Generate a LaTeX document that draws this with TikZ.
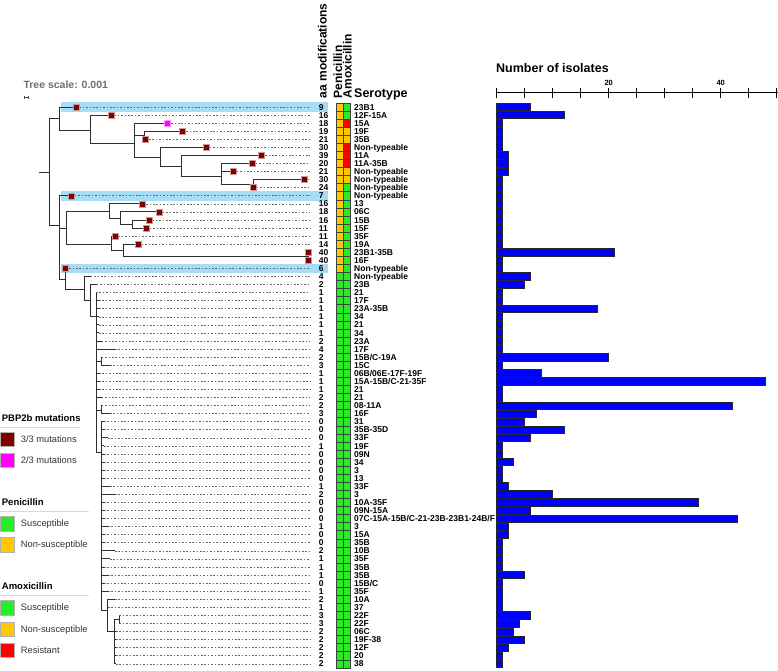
\documentclass[tikz,border=0pt]{standalone}
\usepackage{fontspec}
\setmainfont{Liberation Sans}
\definecolor{maroonc}{RGB}{128,0,0}
\definecolor{magc}{RGB}{255,0,255}
\definecolor{colG}{RGB}{40,235,40}
\definecolor{colO}{RGB}{255,200,0}
\definecolor{colR}{RGB}{255,0,0}
\definecolor{hlc}{RGB}{166,220,245}
\definecolor{barc}{RGB}{0,0,255}
\definecolor{scalegray}{RGB}{110,110,110}
\definecolor{legtxt}{RGB}{50,50,50}
\newcommand\ry[1]{107+8.07*(#1-1)}
\newcommand\tvl[3]{\draw[tree] (#1,{#2}) -- (#1,{#3});}
\newcommand\thl[3]{\draw[tree] (#1,{#3}) -- (#2,{#3});}
\newcommand\tleaf[3]{\draw[tree] (#1,{\ry{#3}}) -- (#2,{\ry{#3}});\draw[dots] (#2,{\ry{#3}}) -- (310,{\ry{#3}});}
\newcommand\tmark[3][m3]{\node[#1] (mk#3) at (#2,{\ry{#3}}) {};}
\begin{document}
\begin{tikzpicture}[x=1pt,y=-1pt,
  tree/.style={line width=0.95pt,draw=black!82,line cap=rect},
  dots/.style={draw=black!60,line width=0.65pt,dash pattern=on 1.6pt off 1.8pt},
  m3/.style={rectangle,fill=maroonc,draw=maroonc!40!white,line width=0.5pt,minimum size=6pt,inner sep=0pt},
  m2/.style={m3,fill=magc,draw=magc!40!white},
  numtxt/.style={anchor=base west,inner sep=0pt,font=\bfseries\fontsize{8.5}{9}\selectfont},
  serotxt/.style={anchor=base west,inner sep=0pt,font=\bfseries\fontsize{8.5}{9}\selectfont},
  headtxt/.style={anchor=base west,inner sep=0pt,rotate=90,font=\bfseries\fontsize{12}{13}\selectfont},
  cellbox/.style={draw=black!75,line width=0.5pt},
  barbox/.style={fill=barc,draw=black!85,line width=0.7pt},
  legtitle/.style={anchor=base west,inner sep=0pt,font=\bfseries\fontsize{9.5}{11}\selectfont},
  legitem/.style={anchor=base west,inner sep=0pt,text=legtxt,font=\fontsize{9.3}{11}\selectfont},
  legsq/.style={draw=black!30,line width=0.4pt},
  legline/.style={draw=black!15,line width=0.8pt}]
\useasboundingbox (0,0) rectangle (778,670);
% highlight bands
\foreach \r in {1,12,21} {\fill[hlc] (61,{\ry{\r}-4.85}) rectangle (328,{\ry{\r}+4.85});}
% tree scale
\node[anchor=base west,inner sep=0pt,text=scalegray,font=\bfseries\fontsize{10.5}{12}\selectfont] (tscale) at (23.3,88.3) {Tree scale: 0.001};
\draw[black!70,line width=0.6pt] (24,97.7) -- (28.5,97.7) (24,96) -- (24,99.4) (28.5,96) -- (28.5,99.4);
% ---- upper clade
\thl{39.3}{49.3}{172}
\tvl{49.3}{118.5}{225.7}
\thl{49.3}{59.3}{118.5}
\tvl{59.3}{\ry{1}}{130}
\tleaf{59.3}{76}{1}
\thl{59.3}{90.7}{130}
\tvl{90.7}{\ry{2}}{143.3}
\tleaf{90.7}{111}{2}
\thl{90.7}{134.3}{143.3}
\tvl{134.3}{\ry{3}}{157.3}
\tleaf{134.3}{167.7}{3}
\thl{134.3}{144.3}{135.2}
\tvl{144.3}{\ry{4}}{\ry{5}}
\tleaf{144.3}{182.7}{4}
\tleaf{144.3}{145.5}{5}
\thl{134.3}{160}{157.3}
\tvl{160}{\ry{6}}{166}
\tleaf{160}{206.3}{6}
\thl{160}{181.7}{166}
\tvl{181.7}{\ry{7}}{176.3}
\tleaf{181.7}{261.7}{7}
\thl{181.7}{221}{176.3}
\tvl{221}{\ry{8}}{184}
\tleaf{221}{252.3}{8}
\tleaf{221}{233.3}{9}
\thl{221}{253.3}{184}
\tvl{253.3}{\ry{10}}{\ry{11}}
\tleaf{253.3}{304.3}{10}
\tleaf{253.3}{253.3}{11}
% ---- middle clade
\thl{49.3}{59.3}{225.7}
\tvl{59.3}{\ry{12}}{279.3}
\tleaf{59.3}{71.3}{12}
\thl{59.3}{66.7}{228}
\tvl{66.7}{211.7}{244.3}
\thl{66.7}{109.3}{211.7}
\tvl{109.3}{\ry{13}}{218}
\tleaf{109.3}{142.7}{13}
\thl{109.3}{120}{218}
\tvl{120}{\ry{14}}{224}
\tleaf{120}{159.3}{14}
\thl{120}{132.7}{224}
\tvl{132.7}{\ry{15}}{\ry{16}}
\tleaf{132.7}{149}{15}
\tleaf{132.7}{146.3}{16}
\thl{66.7}{111}{244.3}
\tvl{111}{\ry{17}}{250.7}
\tleaf{111}{115}{17}
\thl{111}{123.3}{250.7}
\tvl{123.3}{\ry{18}}{256.3}
\tleaf{123.3}{138.3}{18}
\thl{123.3}{308.3}{256.3}
\tvl{308.3}{\ry{19}}{\ry{20}}
% ---- lower clade
\thl{59.3}{65.7}{279.3}
\tvl{65.7}{\ry{21}}{289.3}
\tleaf{65.7}{65.7}{21}
\thl{65.7}{84}{289.3}
\tvl{84}{\ry{22}}{300.7}
\tleaf{84}{90.7}{22}
\thl{84}{90}{300.7}
\tvl{90}{\ry{23}}{316}
\tleaf{90}{96.7}{23}
\thl{90}{96}{316}
\tvl{96}{\ry{24}}{452.7}
\tleaf{96}{96}{24}
\foreach \r in {25,...,29} {\tleaf{96}{99}{\r}}
\tleaf{96}{101.7}{30}
\tleaf{96}{115}{31}
\thl{96}{101.7}{361.3}
\tvl{101.7}{\ry{32}}{\ry{33}}
\tleaf{101.7}{101.7}{32}
\tleaf{101.7}{110}{33}
\foreach \r in {34,35,36} {\tleaf{96}{99}{\r}}
\tleaf{96}{101.7}{37}
\thl{96}{101.7}{410}
\tvl{101.7}{\ry{38}}{\ry{39}}
\tleaf{101.7}{101.7}{38}
\tleaf{101.7}{110}{39}
\thl{96}{101.7}{452.7}
\tvl{101.7}{\ry{40}}{610}
\foreach \r/\e in {40/104,41/104,42/108,43/104,44/104,45/104,46/104,47/104,48/110,49/115,50/104,51/104,52/104,53/108,54/104,55/104,56/115,57/110,58/104,59/108,60/104,61/108} {\tleaf{101.7}{\e}{\r}}
\thl{101.7}{107.7}{610}
\tvl{107.7}{\ry{62}}{631}
\tleaf{107.7}{115}{62}
\tleaf{107.7}{108}{63}
\thl{107.7}{114}{631}
\tvl{114}{619.7}{\ry{70}}
\thl{114}{119.3}{619.7}
\tvl{119.3}{\ry{64}}{\ry{65}}
\tleaf{119.3}{119.3}{64}
\tleaf{119.3}{119.3}{65}
\foreach \r in {66,...,70} {\tleaf{114}{116}{\r}}
% ---- markers
\tmark{76}{1}
\tmark{111}{2}
\tmark[m2]{167.7}{3}
\tmark{182.7}{4}
\tmark{145.5}{5}
\tmark{206.3}{6}
\tmark{261.7}{7}
\tmark{252.3}{8}
\tmark{233.3}{9}
\tmark{304.3}{10}
\tmark{253.3}{11}
\tmark{71.3}{12}
\tmark{142.7}{13}
\tmark{159.3}{14}
\tmark{149}{15}
\tmark{146.3}{16}
\tmark{115}{17}
\tmark{138.3}{18}
\tmark{308.3}{19}
\tmark{308.3}{20}
\tmark{65.7}{21}
% ---- headers
\node[headtxt] (hdaa) at (326.7,98.3) {aa modifications};
\node[headtxt] (hdpen) at (342,98.3) {Penicillin};
\node[headtxt] (hdamx) at (351.7,98.3) {Amoxicillin};
\node[anchor=base west,inner sep=0pt,font=\bfseries\fontsize{12.5}{14}\selectfont] (hdsero) at (354,97.5) {Serotype};
% ---- aa numbers
\foreach \n [count=\i] in {9,16,18,19,21,30,39,20,21,30,24,7,16,18,16,11,11,14,40,40,6,4,2,1,1,1,1,1,1,2,4,2,3,1,1,1,2,2,3,0,0,0,1,0,0,0,0,1,2,0,0,0,1,0,0,2,1,1,1,0,1,2,1,3,3,2,2,2,2,2}
  {\node[numtxt] (num\i) at (318.6,{\ry{\i}+3.05}) {\n};}
% ---- penicillin / amoxicillin cells
\foreach \i in {1,...,70} {
  \pgfmathsetmacro\yy{\ry{\i}}
  \ifnum\i<22 \def\pc{colO}\else\def\pc{colG}\fi
  \fill[\pc] (336.6,\yy-4.035) rectangle (343.3,\yy+4.035);
}
\foreach \c [count=\i] in {G,G,R,O,O,R,R,R,O,O,G,G,G,G,G,G,G,G,G,G,G,G,G,G,G,G,G,G,G,G,G,G,G,G,G,G,G,G,G,G,G,G,G,G,G,G,G,G,G,G,G,G,G,G,G,G,G,G,G,G,G,G,G,G,G,G,G,G,G,G}
  {\pgfmathsetmacro\yy{\ry{\i}}
   \fill[col\c] (343.3,\yy-4.035) rectangle (350,\yy+4.035);}
\foreach \i in {1,...,70} {
  \pgfmathsetmacro\yy{\ry{\i}}
  \draw[cellbox] (336.6,\yy-4.035) rectangle (343.3,\yy+4.035);
  \draw[cellbox] (343.3,\yy-4.035) rectangle (350,\yy+4.035);
}
% ---- serotypes
\foreach \s [count=\i] in {23B1,12F-15A,15A,19F,35B,Non-typeable,11A,11A-35B,Non-typeable,Non-typeable,Non-typeable,Non-typeable,13,06C,15B,15F,35F,19A,23B1-35B,16F,Non-typeable,Non-typeable,23B,21,17F,23A-35B,34,21,34,23A,17F,15B/C-19A,15C,06B/06E-17F-19F,15A-15B/C-21-35F,21,21,08-11A,16F,31,35B-35D,33F,19F,09N,34,3,13,33F,3,10A-35F,09N-15A,07C-15A-15B/C-21-23B-23B1-24B/F,3,15A,35B,10B,35F,35B,35B,15B/C,35F,10A,37,22F,22F,06C,19F-38,12F,20,38}
  {\node[serotxt] (sero\i) at (354,{\ry{\i}+3.05}) {\s};}
% ---- bar chart
\node[anchor=base west,inner sep=0pt,font=\bfseries\fontsize{12.5}{14}\selectfont] (bartitle) at (496,72.7) {Number of isolates};
\draw[black,line width=0.9pt] (496.7,92.7) -- (777.5,92.7);
\foreach \k in {0,...,10} {\draw[black,line width=0.9pt] ({496.7+28*\k},88) -- ({496.7+28*\k},97.5);}
\node[anchor=base,inner sep=0pt,font=\bfseries\fontsize{7.5}{8}\selectfont] (tk20) at (608.7,85) {20};
\node[anchor=base,inner sep=0pt,font=\bfseries\fontsize{7.5}{8}\selectfont] (tk40) at (720.7,85) {40};
\foreach \b [count=\i] in {6,12,1,1,1,1,2,2,2,1,1,1,1,1,1,1,1,1,21,1,1,6,5,1,1,18,1,1,1,1,1,20,1,8,48,1,1,42,7,5,12,6,1,1,3,1,1,2,10,36,6,43,2,2,1,1,1,1,5,1,1,1,1,6,4,3,5,2,1,1}
  {\pgfmathsetmacro\yy{\ry{\i}}
   \draw[barbox] (496.7,\yy-3.7) rectangle ({496.7+5.6*\b},\yy+3.7);}
% ---- legends
\node[legtitle] (lg1) at (1.7,421.7) {PBP2b mutations};
\draw[legline] (0,427.7) -- (80,427.7);
\fill[maroonc] (0,432) rectangle (14,446); \draw[legsq] (0,432) rectangle (14,446);
\node[legitem] (lg1a) at (20.7,442.6) {3/3 mutations};
\fill[magc] (0,453) rectangle (14,467); \draw[legsq] (0,453) rectangle (14,467);
\node[legitem] (lg1b) at (20.7,463.3) {2/3 mutations};
\node[legtitle] (lg2) at (1.7,505.4) {Penicillin};
\draw[legline] (0,511.3) -- (89,511.3);
\fill[colG] (0,516.5) rectangle (14,530.7); \draw[legsq] (0,516.5) rectangle (14,530.7);
\node[legitem] (lg2a) at (20.7,526.8) {Susceptible};
\fill[colO] (0,537.5) rectangle (14,551.7); \draw[legsq] (0,537.5) rectangle (14,551.7);
\node[legitem] (lg2b) at (20.7,547.8) {Non-susceptible};
\node[legtitle] (lg3) at (1.7,589.7) {Amoxicillin};
\draw[legline] (0,595.8) -- (89,595.8);
\fill[colG] (0,600.5) rectangle (14,614.7); \draw[legsq] (0,600.5) rectangle (14,614.7);
\node[legitem] (lg3a) at (20.7,610.8) {Susceptible};
\fill[colO] (0,621.7) rectangle (14,635.7); \draw[legsq] (0,621.7) rectangle (14,635.7);
\node[legitem] (lg3b) at (20.7,632) {Non-susceptible};
\fill[colR] (0,642.7) rectangle (14,657); \draw[legsq] (0,642.7) rectangle (14,657);
\node[legitem] (lg3c) at (20.7,653.1) {Resistant};
\end{tikzpicture}
\end{document}
